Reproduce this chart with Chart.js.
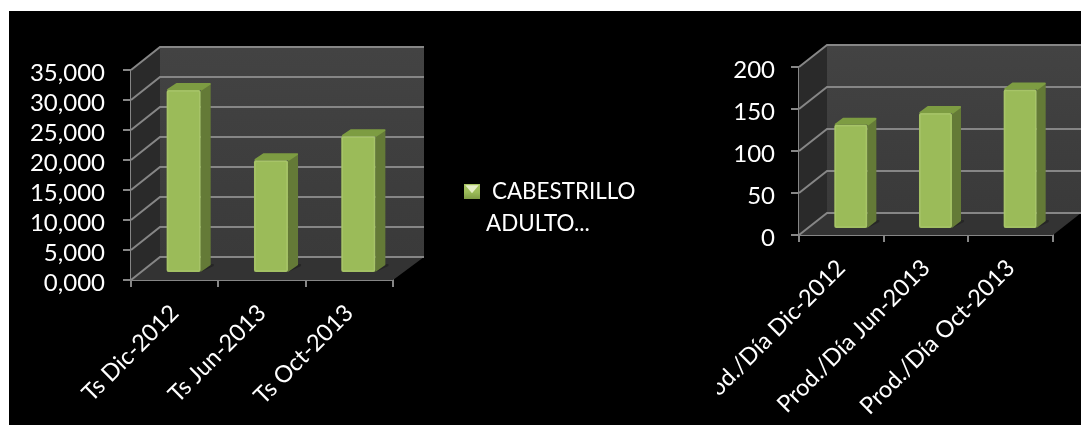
<!DOCTYPE html>
<html>
<head>
<meta charset="utf-8">
<script src="https://cdn.jsdelivr.net/npm/chart.js@4"></script>
<style>
  html, body { margin: 0; background: #fff; overflow: hidden; }
  #slide { position: absolute; left: 9px; top: 11px; width: 1072px; height: 414px; background: #000; }
  canvas { position: absolute; }
  #tsWrap { position: absolute; left: 9px; top: 11px; width: 708px; height: 414px; }
  #prodWrap { position: absolute; left: 717px; top: 11px; width: 364px; height: 414px; }
  .legend { position: absolute; color: #fff; font: 22.4px Lato, sans-serif; white-space: nowrap; }
  #marker { position: absolute; left: 464px; top: 184px; width: 16px; height: 15px;
    background: linear-gradient(#a8c562 0, #9bbb59 55%, #7f9c45 100%); }
  #marker::after { content: ''; position: absolute; inset: 0; background: #e4edc6;
    clip-path: polygon(8% 8%, 92% 8%, 50% 62%); }
</style>
</head>
<body>
<div id="slide"></div>
<div id="tsWrap"><canvas id="ts"></canvas></div>
<div id="prodWrap"><canvas id="prod"></canvas></div>
<div id="marker"></div>
<div class="legend" id="legend1" style="left:492px; top:177px;"></div>
<div class="legend" id="legend2" style="left:486px; top:209px;"></div>
<script>
const legendLines = ['CABESTRILLO', 'ADULTO...'];

const tsLabels = ['Ts Dic-2012', 'Ts Jun-2013', 'Ts Oct-2013'];
const tsValues = [30.5, 18.8, 22.8];
const tsTicks = ['0,000', '5,000', '10,000', '15,000', '20,000', '25,000', '30,000', '35,000'];

const prodLabels = ['Prod./Día Dic-2012', 'Prod./Día Jun-2013', 'Prod./Día Oct-2013'];
const prodValues = [124, 138, 166];
const prodTicks = ['0', '50', '100', '150', '200'];

const GRID = '#868686';
const BAR = '#9bbb59';

document.getElementById('legend1').textContent = legendLines[0];
document.getElementById('legend2').textContent = legendLines[1];

function poly(ctx, pts, fill) {
    ctx.beginPath();
    pts.forEach((p, i) => i ? ctx.lineTo(p[0], p[1]) : ctx.moveTo(p[0], p[1]));
    ctx.closePath();
    ctx.fillStyle = fill;
    ctx.fill();
}

// walls, floor and grid of the fake 3d box, plus the bar sides
const box3d = {
    id: 'box3d',
    afterUpdate(chart) {
        // numbers sit a little under their tick marks
        chart.scales.y.getLabelItems(chart.chartArea).forEach(item => { item.options.translation[1] += 3; });
    },
    beforeDatasetsDraw(chart, args, opts) {
        const { ctx, chartArea: a, scales: { y } } = chart;
        const { dx, dy, backRight, barDx, barDy, side } = opts;
        const wallRight = a.right + dx + backRight;

        const wall = ctx.createLinearGradient(0, a.top + dy, 0, a.bottom + dy);
        wall.addColorStop(0, '#434343');
        wall.addColorStop(1, '#3a3a3a');
        poly(ctx, [[a.left + dx, a.top + dy], [wallRight, a.top + dy], [wallRight, a.bottom + dy], [a.left + dx, a.bottom + dy]], wall);
        poly(ctx, [[a.left, a.top], [a.left + dx, a.top + dy], [a.left + dx, a.bottom + dy], [a.left, a.bottom]], '#2a2a2a');
        poly(ctx, [[a.left, a.bottom], [a.right, a.bottom], [wallRight, a.bottom + dy], [a.left + dx, a.bottom + dy]], '#333333');

        ctx.strokeStyle = GRID;
        ctx.lineWidth = 2;
        y.ticks.forEach(t => {
            const py = y.getPixelForValue(t.value);
            ctx.beginPath();
            ctx.moveTo(a.left, py);
            ctx.lineTo(a.left + dx, py + dy);
            ctx.lineTo(wallRight, py + dy);
            ctx.stroke();
        });

        chart.getDatasetMeta(0).data.forEach(bar => {
            const l = bar.x - bar.width / 2 + barDx;
            const r = bar.x + bar.width / 2 + barDx;
            const top = bar.y + barDy;
            const base = bar.base + barDy;
            // soft shadow on the floor
            poly(ctx, [[r, base], [r + side + 3, base - 6], [r + side + 3, base - 8], [r, base - 8]], '#262626');
            poly(ctx, [[r, top], [r + side, top - 7], [r + side, base - 7], [r, base]], '#647a37');
            ctx.lineJoin = 'round';
            ctx.lineWidth = 2;
            ctx.strokeStyle = '#7d9c42';
            ctx.beginPath();
            ctx.moveTo(l + 1, top);
            ctx.lineTo(l + side, top - 6);
            ctx.lineTo(r + side - 1, top - 6);
            ctx.lineTo(r, top);
            ctx.stroke();
            poly(ctx, [[l, top], [l + side, top - 6], [r + side - 1, top - 6], [r, top]], '#7d9c42');
        });

        // bars are painted by the library, shifted onto the middle of the floor
        ctx.save();
        ctx.translate(barDx, barDy);
    },
    afterDatasetsDraw(chart) {
        const { ctx } = chart;
        chart.getDatasetMeta(0).data.forEach(bar => {
            const l = bar.x - bar.width / 2;
            ctx.strokeStyle = 'rgba(205,225,150,0.25)';
            ctx.lineWidth = 1.5;
            ctx.strokeRect(l + 1, bar.y + 1, bar.width - 2, bar.base - bar.y - 2);
        });
        ctx.restore();
    }
};

function makeChart(id, labels, values, ticks, max, step, area, depth) {
    return new Chart(document.getElementById(id), {
        type: 'bar',
        data: {
            labels: labels,
            datasets: [{
                label: legendLines.join(' '),
                data: values,
                backgroundColor: BAR,
                borderWidth: 0,
                borderRadius: 2,
                borderSkipped: false,
                barPercentage: 1,
                categoryPercentage: 0.39,
                clip: false
            }]
        },
        options: {
            responsive: true,
            maintainAspectRatio: false,
            animation: false,
            layout: { padding: { top: area.top, right: area.right, left: 0, bottom: 0 } },
            plugins: { legend: { display: false }, tooltip: { enabled: false }, box3d: depth },
            scales: {
                x: {
                    // rotated labels may overhang, the plot box stays put
                    afterFit: s => { s.height = area.bottom; s.paddingLeft = 0; s.paddingRight = 0; },
                    grid: { drawOnChartArea: false, color: GRID, lineWidth: 2, tickLength: 7, offset: true },
                    border: { color: GRID, width: 2 },
                    ticks: {
                        color: '#fff', font: { family: 'Lato', size: 23.5 },
                        minRotation: 45, maxRotation: 45, autoSkip: false, padding: 12
                    }
                },
                y: {
                    min: 0, max: max,
                    afterFit: s => { s.width = area.left; },
                    grid: { drawOnChartArea: false, color: GRID, lineWidth: 2, tickLength: 8 },
                    border: { color: GRID, width: 2 },
                    ticks: {
                        stepSize: step, color: '#fff', font: { family: 'Lato', size: 24 }, padding: area.tickPad,
                        autoSkip: false,
                        callback: (v, i) => ticks[i]
                    }
                }
            }
        },
        plugins: [box3d]
    });
}

makeChart('ts', tsLabels, tsValues, tsTicks, 35, 5,
    { left: 122, right: 324, top: 59, bottom: 145, tickPad: 18 },
    { dx: 29, dy: -23, backRight: 2, barDx: 9, barDy: -7, side: 10 });

makeChart('prod', prodLabels, prodValues, prodTicks, 200, 50,
    { left: 82, right: 28, top: 56, bottom: 190, tickPad: 16 },
    { dx: 28, dy: -22, backRight: 0, barDx: 9.5, barDy: -6, side: 9 });
</script>
</body>
</html>
